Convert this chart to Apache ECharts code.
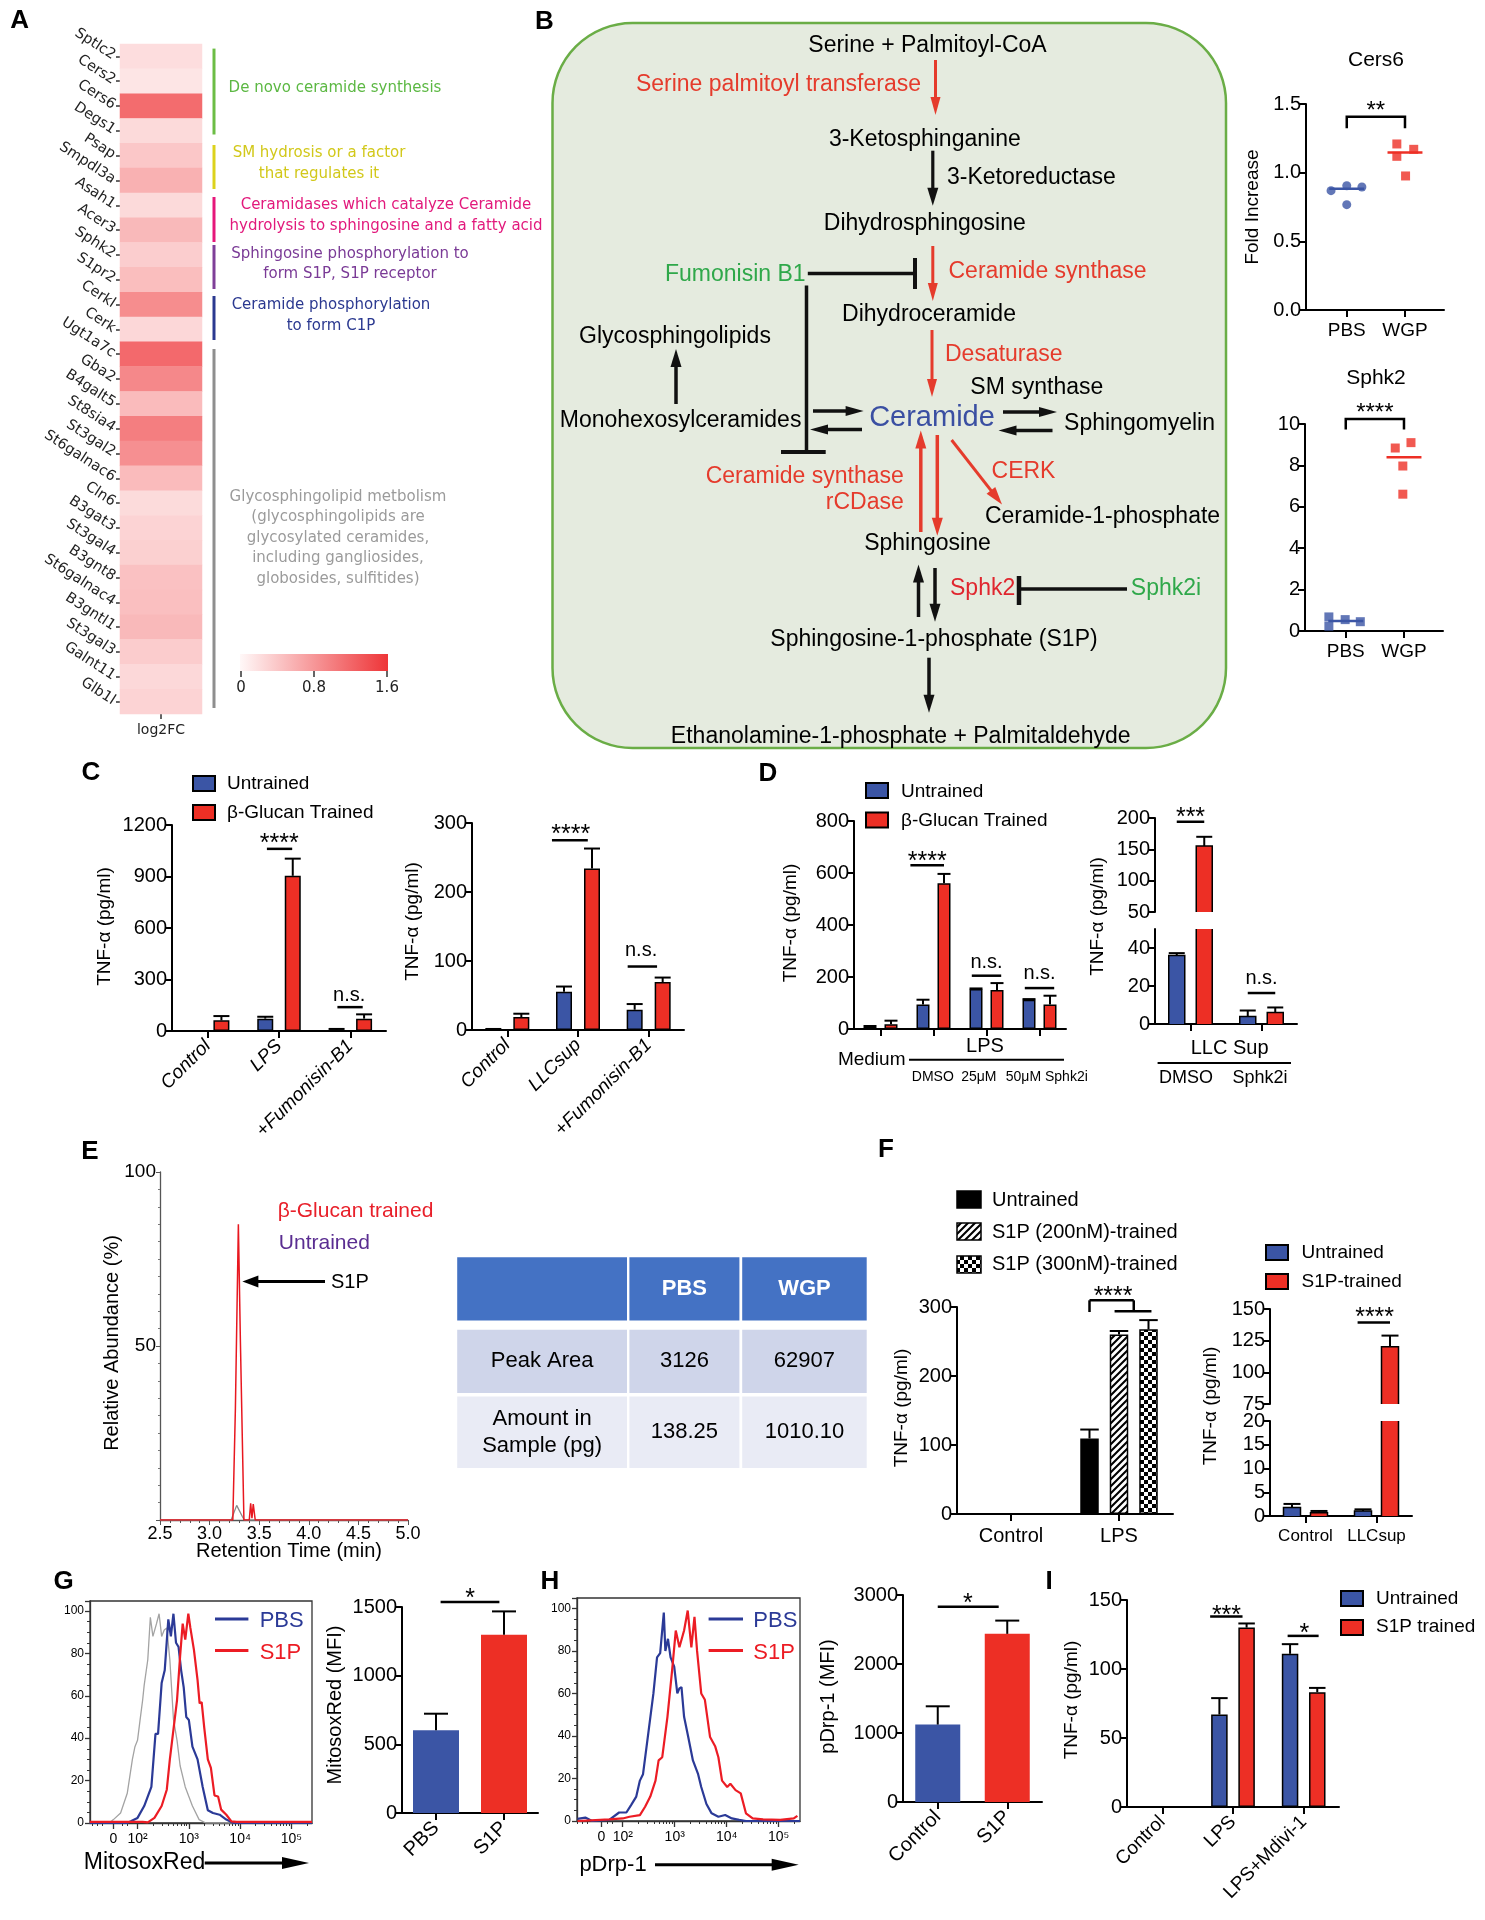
<!DOCTYPE html>
<html><head><meta charset="utf-8">
<script src="https://cdn.jsdelivr.net/npm/echarts@6/dist/echarts.min.js"></script>
<style>html,body{margin:0;padding:0;background:#fff}#c{width:1485px;height:1920px}</style>
</head><body><div id="c"></div>
<script>
const SANS = "'Liberation Sans', Arial, Helvetica, sans-serif";
const VERD = "'DejaVu Sans', Verdana, sans-serif";
const BLUE = '#3b55a5', RED = '#ed2f25';
const HBLUE = '#2b3a97', HRED = '#ec1c24', HGRAY = '#a3a3a3';
const PRED = '#e53b2c', PGREEN = '#2fa84a';

// ================= DATA =================
// A: heatmap
const genes = ['Sptlc2','Cers2','Cers6','Degs1','Psap','Smpdl3a','Asah1','Acer3','Sphk2','S1pr2','Cerkl','Cerk','Ugt1a7c','Gba2','B4galt5','St8sia4','St3gal2','St6galnac6','Cln6','B3gat3','St3gal4','B3gnt8','St6galnac4','B3gntl1','St3gal3','Galnt11','Glb1l'];
const log2FC = [0.22,0.16,1.15,0.25,0.40,0.58,0.25,0.52,0.35,0.48,0.88,0.27,1.17,0.92,0.50,1.00,0.86,0.50,0.24,0.30,0.33,0.45,0.47,0.52,0.36,0.26,0.30];
const colorTicks = [0, 0.8, 1.6];
// B: scatter
const scatterCats = ['PBS','WGP'];
const cers6PBS = [0.869, 0.905, 0.896, 0.767];
const cers6PBSJit = [-0.27, 0, 0.26, 0];
const cers6WGP = [1.209, 1.170, 1.119, 0.976];
const cers6WGPJit = [-0.14, 0.15, -0.14, 0.01];
const cers6Mean = [0.883, 1.146];
const cers6Bracket = [1.408, 1.323, 1.49];
const sphk2PBS = [0.68, 0.23, 0.55, 0.45];
const sphk2PBSJit = [-0.29, -0.29, -0.01, 0.25];
const sphk2WGP = [8.84, 9.10, 7.97, 6.61];
const sphk2WGPJit = [-0.15, 0.12, -0.02, -0.02];
const sphk2Mean = [0.48, 8.39];
const sphk2Bracket = [10.24, 9.74, 10.8];
// C
const cLeftCats = ['Control','LPS','+Fumonisin-B1'];
const cLeftUntrained = [0, 72, 8];
const cLeftUntrainedErr = [0, 83, 12];
const cLeftTrained = [62, 904, 72];
const cLeftTrainedErr = [87, 1004, 97];
const cLeftSig = [
  {segs:[[1,0.06,1061,1,0.98,1061]], text:'****', tc:1, ti:0.51, ty:1123},
  {segs:[[2,0.03,139,2,0.95,139]], text:'n.s.', tc:2, ti:0.46, ty:207}
];
const cRightCats = ['Control','LLCsup','+Fumonisin-B1'];
const cRightUntrained = [1, 55.5, 29.4];
const cRightUntrainedErr = [1.5, 63, 37.6];
const cRightTrained = [18.8, 234, 69.5];
const cRightTrainedErr = [23.6, 263, 76];
const cRightSig = [
  {segs:[[1,-0.43,275,1,0.85,275]], text:'****', tc:1, ti:0.24, ty:292},
  {segs:[[2,-0.25,92,2,0.8,92]], text:'n.s.', tc:2, ti:0.23, ty:115}
];
// D
const dLeftCats = ['Medium','DMSO','25μM','50μM Sphk2i'];
const dLeftUntrained = [7.7, 94.7, 153.6, 112.6];
const dLeftUntrainedErr = [11.5, 112.6, 156, 115];
const dLeftTrained = [18, 560.6, 150, 94.7];
const dLeftTrainedErr = [32, 596.5, 176.6, 128];
const dLeftSig = [
  {segs:[[1,-0.6,630,1,1,630]], text:'****', tc:1, ti:0.2, ty:666},
  {segs:[[2,-0.2,205,2,1.2,205]], text:'n.s.', tc:2, ti:0.5, ty:257},
  {segs:[[3,-0.2,157.4,3,1.2,157.4]], text:'n.s.', tc:3, ti:0.5, ty:212.5}
];
const dRightCats = ['DMSO','Sphk2i'];
const dRightUntrained = [36.1, 3.9];
const dRightUntrainedErr = [37.3, 7.1];
const dRightTrained = [155.3, 6];
const dRightTrainedErr = [170, 8.7];
const dRightSigUpper = [{segs:[[0,0,194,0,1,194]], text:'***', tc:0, ti:0.5, ty:210}];
const dRightSigLower = [{segs:[[1,0,16.3,1,1,16.3]], text:'n.s.', tc:1, ti:0.5, ty:23.7}];
// E
const eRed = [[2.5,0],[3.234,0],[3.26,32],[3.29,85],[3.31,52],[3.346,0],[3.40,0],[3.414,4.8],[3.427,0.5],[3.44,4.6],[3.46,0],[5.0,0]];
const eGray = [[2.5,0],[3.217,0],[3.273,4.2],[3.33,1],[3.35,0],[5.0,0]];
const tableHeader = ['', 'PBS', 'WGP'];
const tableRows = [['Peak Area','3126','62907'], ['Amount in\nSample (pg)','138.25','1010.10']];
// F
const fLeftCats = ['Control','LPS'];
const fLeftUntrained = [0.5, 109.4];
const fLeftUntrainedErr = [0.5, 122.4];
const fLeftS1P200 = [0.5, 260.3];
const fLeftS1P200Err = [0.5, 265.2];
const fLeftS1P300 = [0.5, 267.6];
const fLeftS1P300Err = [0.5, 281];
const fLeftSig = [{segs:[[1,0,292.7,1,0,309.7],[1,0,309.7,1,1.5,309.7],[1,1.5,309.7,1,1.5,294],[1,0.85,294,1,2.1,294]], text:'****', tc:1, ti:0.8, ty:323}];
const fRightCats = ['Control','LLCsup'];
const fRightUntrained = [1.77, 1.06];
const fRightUntrainedErr = [2.54, 1.4];
const fRightTrained = [0.7, 120.2];
const fRightTrainedErr = [1.06, 129];
const fRightSig = [{segs:[[1,-0.2,139.4,1,1,139.4]], text:'****', tc:1, ti:0.43, ty:147.4}];
// G
const histTickText = ['0','10²','10³','10⁴','10⁵'];
const gGray = [[1.07,0],[1.45,0],[1.53,1.6],[1.67,4.7],[1.8,14],[1.9,30],[1.95,36],[2.0,39],[2.05,48.6],[2.1,58],[2.13,65],[2.2,77],[2.25,97],[2.3,88],[2.37,94],[2.42,98.7],[2.47,88],[2.52,91],[2.57,92],[2.63,77],[2.7,49],[2.77,39],[2.83,27],[2.93,17],[3.07,8],[3.2,1.6],[3.33,0],[5.4,0]];
const gBlue = [[1.07,0],[1.8,0],[1.87,0.8],[2.0,2.4],[2.13,8],[2.27,17],[2.35,42],[2.4,42],[2.47,66],[2.53,72],[2.6,96],[2.65,88],[2.7,98.7],[2.75,85],[2.8,83],[2.85,72],[2.9,64],[2.95,50],[3.0,48.6],[3.07,36],[3.17,30],[3.27,17],[3.37,6],[3.47,4.7],[3.6,3.9],[3.73,1.6],[3.87,0],[5.4,0]];
const gRed = [[1.07,0.5],[2.1,0.5],[2.2,0.3],[2.33,2.4],[2.47,8],[2.57,15.7],[2.63,30],[2.7,44],[2.77,58],[2.83,78.7],[2.88,94],[2.93,86.5],[2.99,98.7],[3.03,92],[3.1,81.5],[3.17,67.4],[3.21,56.4],[3.25,57],[3.3,45],[3.37,30],[3.43,26],[3.5,13],[3.57,12.5],[3.63,6.3],[3.73,3.9],[3.83,0.8],[3.93,0.5],[5.4,0.5]];
const gCats = ['PBS','S1P'];
const gMFI = [602, 1298];
const gMFIErr = [723, 1468];
const gSig = [{segs:[[0,0.1,1536,1,-0.1,1536]], text:'*', tc:0, ti:0.74, ty:1600}];
// H
const hBlue = [[1.13,1],[1.28,1.6],[1.41,0],[1.74,0.5],[1.93,4],[2.07,4],[2.16,7.5],[2.26,11.5],[2.33,19],[2.39,22],[2.49,41],[2.59,60],[2.66,77],[2.72,79],[2.79,98],[2.82,80],[2.87,85.7],[2.92,77],[2.99,72.6],[3.05,60],[3.09,62.4],[3.13,63],[3.18,49],[3.26,39.5],[3.35,28.5],[3.45,22],[3.51,16],[3.61,8],[3.71,3.6],[3.84,2],[3.97,2.8],[4.1,1.2],[4.24,0.5],[4.37,0],[5.41,0]];
const hRed = [[1.13,0],[1.74,0.8],[2.0,1.2],[2.13,2],[2.33,2.8],[2.43,6.7],[2.53,11.5],[2.63,19],[2.69,28.5],[2.76,30],[2.86,49],[2.95,71],[3.02,89.6],[3.09,81.7],[3.18,89.6],[3.25,99],[3.32,81.7],[3.38,96],[3.43,80],[3.51,60],[3.58,57],[3.68,39.5],[3.78,35],[3.84,30],[3.91,19],[4.01,16],[4.07,17.5],[4.17,14.5],[4.27,13],[4.37,3.6],[4.5,1.2],[4.7,0.8],[5.03,0.5],[5.29,1.2],[5.36,2.4]];
const hCats = ['Control','S1P'];
const hMFI = [1122, 2437];
const hMFIErr = [1387, 2629];
const hSig = [{segs:[[0,0,2831,1,-0.19,2831]], text:'*', tc:0, ti:0.67, ty:2952}];
// I
const iCats = ['Control','LPS','LPS+Mdivi-1'];
const iUntrained = [0, 67, 111];
const iUntrainedErr = [0, 78.9, 118];
const iTrained = [0, 130, 83.2];
const iTrainedErr = [0, 133, 86.3];
const iSig = [
  {segs:[[1,-0.34,138,1,0.85,138]], text:'***', tc:1, ti:0.26, ty:142.8},
  {segs:[[2,-0.09,124,2,1.05,124]], text:'*', tc:2, ti:0.53, ty:129.5}
];

// ================= BUILD =================
const G = [];
const option = {animation:false, backgroundColor:'#ffffff', textStyle:{fontFamily:SANS},
  grid:[], xAxis:[], yAxis:[], series:[], visualMap:[], graphic:{elements:G}};
function addGrid(g){ option.grid.push(Object.assign({containLabel:false}, g)); return option.grid.length-1; }
function addX(a){ option.xAxis.push(a); return option.xAxis.length-1; }
function addY(a){ option.yAxis.push(a); return option.yAxis.length-1; }
const plain = v => String(Math.round(v*1000)/1000);

function T(text, x, y, o){ o = o || {};
  G.push({type:'text', x:x, y:y, rotation:o.rot||0, z:50, silent:true,
    style:{text:text, fill:o.c||'#000', font:(o.it?'italic ':'')+(o.b?'bold ':'')+(o.s||20)+'px '+(o.f||SANS),
      textAlign:o.a||'center', textVerticalAlign:o.v||'middle', align:o.a||'center', verticalAlign:o.v||'middle', lineHeight:o.lh}}); }
function YT(text, x, y, s){ T(text, x, y, {rot:Math.PI/2, s:s||19}); }
function L(x1,y1,x2,y2,c,w){ G.push({type:'line', z:45, silent:true, shape:{x1:x1,y1:y1,x2:x2,y2:y2}, style:{stroke:c||'#000', lineWidth:w||2}}); }
function R(x,y,w,h,fill,o){ o = o || {};
  G.push({type:'rect', z:o.z||10, silent:true, shape:{x:x,y:y,width:w,height:h,r:o.r||0}, style:{fill:fill, stroke:o.stroke||null, lineWidth:o.lw||0}}); }
function ARW(x1,y1,x2,y2,c,w,hl,hw){
  const a = Math.atan2(y2-y1,x2-x1), ca = Math.cos(a), sa = Math.sin(a);
  const bx = x2-hl*ca, by = y2-hl*sa;
  G.push({type:'line', z:40, silent:true, shape:{x1:x1,y1:y1,x2:bx+ca,y2:by+sa}, style:{stroke:c, lineWidth:w}});
  G.push({type:'polygon', z:40, silent:true, shape:{points:[[x2,y2],[bx-sa*hw/2, by+ca*hw/2],[bx+sa*hw/2, by-ca*hw/2]]}, style:{fill:c}});
}
function legendBox(x,y,fill){ R(x,y,22,15,fill,{stroke:'#000', lw:2, z:30}); }

// patterns
function makeHatch(){ const c = document.createElement('canvas'); c.width = 7; c.height = 7;
  const x = c.getContext('2d'); x.fillStyle = '#fff'; x.fillRect(0,0,7,7);
  x.strokeStyle = '#000'; x.lineWidth = 2.1; x.beginPath();
  [-7,0,7].forEach(k => { x.moveTo(k-1, 8); x.lineTo(k+8, -1); }); x.stroke(); return c; }
function makeCheck(){ const c = document.createElement('canvas'); c.width = 8; c.height = 8;
  const x = c.getContext('2d'); x.fillStyle = '#fff'; x.fillRect(0,0,8,8);
  x.fillStyle = '#000'; x.fillRect(0,0,4,4); x.fillRect(4,4,4,4); return c; }
const HATCH = {image:makeHatch(), repeat:'repeat'};
const CHECK = {image:makeCheck(), repeat:'repeat'};

function addSig(list, xi, yi, off){
  option.series.push({type:'custom', xAxisIndex:xi, yAxisIndex:yi, z:6, silent:true,
    data: list.map(s => [s.tc, s.ty]),
    renderItem:(params, api) => {
      const s = list[params.dataIndex], ch = [];
      s.segs.forEach(g => {
        const a = api.coord([g[0], g[2]]), b = api.coord([g[3], g[5]]);
        ch.push({type:'line', shape:{x1:a[0]+off(g[1]), y1:a[1], x2:b[0]+off(g[4]), y2:b[1]}, style:{stroke:'#000', lineWidth:2.5}});
      });
      const star = s.text.indexOf('*') >= 0;
      const t = api.coord([s.tc, s.ty]), fs = s.size || (star ? 25 : 20);
      const dy = star ? fs*0.25 : 0;
      ch.push({type:'text', x:t[0]+off(s.ti), y:t[1]+dy, style:{text:s.text, fill:'#000', font:fs+'px '+SANS,
        textAlign:'center', textVerticalAlign:'middle', align:'center', verticalAlign:'middle'}});
      return {type:'group', children:ch};
    }});
}

function barPanel(p){
  const gi = addGrid({left:p.left, top:p.top, width:p.width, height:p.height});
  const xl = p.xLabel || {};
  const xi = addX({type:'category', gridIndex:gi, data:p.cats, show:p.showX !== false,
    axisLine:{show:true, onZero:false, lineStyle:{color:'#000', width:2}},
    axisTick:{show:true, alignWithLabel:true, length:7, lineStyle:{color:'#000', width:2}},
    axisLabel:{show:xl.show !== false, interval:0, rotate:xl.rotate||0, fontStyle:xl.italic?'italic':'normal',
      fontSize:xl.size||19, fontFamily:SANS, color:'#000', margin:xl.margin||10},
    splitLine:{show:false}});
  const yi = addY({type:'value', gridIndex:gi, min:p.min, max:p.max, interval:p.interval,
    splitLine:{show:false},
    axisLine:{show:true, lineStyle:{color:'#000', width:2}},
    axisTick:{show:true, length:7, lineStyle:{color:'#000', width:2}},
    axisLabel:{formatter:plain, fontSize:p.ySize||20, fontFamily:SANS, color:'#000', margin:5, showMaxLabel:p.showMaxLabel !== false}});
  const n = p.ser.length, gap = p.gap || 0;
  const off = i => -(n*p.bw + (n-1)*gap)/2 + p.bw/2 + i*(p.bw+gap);
  p.ser.forEach((s,i) => {
    option.series.push({type:'bar', xAxisIndex:xi, yAxisIndex:yi, barWidth:p.bw, barGap:(gap/p.bw*100)+'%', clip:true, silent:true, z:2,
      data: s.vals.map((v,k) => ({value:v, itemStyle:{color: s.colors ? s.colors[k] : s.color}})),
      itemStyle:{borderColor:'#000', borderWidth: p.outline ? 0 : (p.border||0)}});
    const ox = off(i), ch = (p.cap || p.bw)/2;
    if (p.outline) {
      option.series.push({type:'custom', xAxisIndex:xi, yAxisIndex:yi, z:4, silent:true,
        data: s.vals.map((v,k) => [k, v]).filter(d => d[1] > p.min),
        renderItem:(params, api) => {
          const k = api.value(0), v = api.value(1);
          const a = api.coord([k, Math.max(p.min, 0)]), b = api.coord([k, Math.min(v, p.max)]);
          const x0 = a[0] + ox - p.bw/2, x1 = a[0] + ox + p.bw/2;
          const st = {stroke:'#000', lineWidth:p.border, fill:null};
          if (v <= p.max) return {type:'polyline', shape:{points:[[x0,a[1]],[x0,b[1]],[x1,b[1]],[x1,a[1]]]}, style:st};
          return {type:'group', children:[
            {type:'line', shape:{x1:x0, y1:a[1], x2:x0, y2:b[1]}, style:st},
            {type:'line', shape:{x1:x1, y1:a[1], x2:x1, y2:b[1]}, style:st}]};
        }});
    }
    option.series.push({type:'custom', xAxisIndex:xi, yAxisIndex:yi, z:5, silent:true,
      data: s.vals.map((v,k) => [k, v, s.errs[k]]).filter(d => d[2] > d[1] && d[1] >= p.min && d[2] <= p.max),
      renderItem:(params, api) => {
        const a = api.coord([api.value(0), api.value(1)]), b = api.coord([api.value(0), api.value(2)]);
        const x = a[0] + ox;
        return {type:'group', children:[
          {type:'line', shape:{x1:x, y1:a[1], x2:x, y2:b[1]}, style:{stroke:'#000', lineWidth:2}},
          {type:'line', shape:{x1:x-ch, y1:b[1], x2:x+ch, y2:b[1]}, style:{stroke:'#000', lineWidth:2}}]};
      }});
  });
  if (p.sig) addSig(p.sig, xi, yi, off);
}

function scatterPanel(p){
  const gi = addGrid({left:p.left, top:p.top, width:p.width, height:p.height});
  const xi = addX({type:'value', gridIndex:gi, min:0.3, max:2.67, splitLine:{show:false},
    axisLine:{show:true, onZero:false, lineStyle:{color:'#000', width:2}},
    axisTick:{show:true, customValues:[1,2], length:7, lineStyle:{color:'#000', width:2}},
    axisLabel:{customValues:[1,2], formatter:v => scatterCats[Math.round(v)-1], fontSize:19, color:'#000', fontFamily:SANS, margin:11}});
  const yi = addY({type:'value', gridIndex:gi, min:p.min, max:p.max, interval:p.interval, splitLine:{show:false},
    axisLine:{show:true, onZero:false, lineStyle:{color:'#000', width:2}},
    axisTick:{show:true, length:7, lineStyle:{color:'#000', width:2}},
    axisLabel:{formatter:p.fmt, fontSize:20, color:'#000', fontFamily:SANS, margin:5}});
  option.series.push({type:'scatter', xAxisIndex:xi, yAxisIndex:yi, symbol:p.sym[0], symbolSize:9, itemStyle:{color:BLUE}, silent:true, z:4,
    data:p.pbs.map((v,i) => [1+p.pbsJ[i], v])});
  option.series.push({type:'scatter', xAxisIndex:xi, yAxisIndex:yi, symbol:p.sym[1], symbolSize:9, itemStyle:{color:RED}, silent:true, z:4,
    data:p.wgp.map((v,i) => [2+p.wgpJ[i], v])});
  option.series.push({type:'custom', xAxisIndex:xi, yAxisIndex:yi, z:5, silent:true, data:p.mean.map((m,i) => [i+1, m]),
    renderItem:(params, api) => {
      const a = api.coord([api.value(0)-0.3, api.value(1)]), b = api.coord([api.value(0)+0.3, api.value(1)]);
      return {type:'line', shape:{x1:a[0], y1:a[1], x2:b[0], y2:b[1]}, style:{stroke:[BLUE,RED][params.dataIndex], lineWidth:2.5}};
    }});
  option.series.push({type:'custom', xAxisIndex:xi, yAxisIndex:yi, z:5, silent:true, data:[[1.5, p.br[0]]],
    renderItem:(params, api) => {
      const l1 = api.coord([1, p.br[1]]), t1 = api.coord([1, p.br[0]]), t2 = api.coord([2, p.br[0]]), l2 = api.coord([2, p.br[1]]), st = api.coord([1.5, p.br[2]]);
      return {type:'group', children:[
        {type:'polyline', shape:{points:[l1,t1,t2,l2]}, style:{stroke:'#000', lineWidth:2.5, fill:null}},
        {type:'text', x:st[0], y:st[1]+6, style:{text:p.star, fill:'#000', font:'24px '+SANS, textAlign:'center', textVerticalAlign:'middle', align:'center', verticalAlign:'middle'}}]};
    }});
}

function histPanel(p){
  const gi = addGrid({left:p.left, top:p.top, width:p.width, height:p.height, show:true, borderColor:'#333', borderWidth:1.3, backgroundColor:'transparent'});
  const lab = p.labVals;
  const xi = addX({type:'value', gridIndex:gi, position:'bottom', min:p.xmin, max:p.xmax, splitLine:{show:false},
    axisLine:{show:true, onZero:false, lineStyle:{color:'#333', width:1.3}},
    axisTick:{show:true, customValues:lab, length:6, lineStyle:{color:'#333', width:1.3}},
    axisLabel:{customValues:lab, formatter:v => { let k = 0; lab.forEach((l,j) => { if (Math.abs(l-v) < Math.abs(lab[k]-v)) k = j; }); return histTickText[k]; },
      fontSize:14, color:'#000', margin:9, fontFamily:SANS}});
  const minor = [];
  [2,3,4,5].forEach(d => { for (let k = 2; k <= 9; k++){ const v = d + Math.log10(k); if (v < p.xmax) minor.push(v); } });
  [0.12,0.22,0.32,0.7,0.8].forEach(f => minor.push(1 + f));
  addX({type:'value', gridIndex:gi, position:'bottom', min:p.xmin, max:p.xmax, splitLine:{show:false},
    axisLine:{show:false}, axisLabel:{show:false},
    axisTick:{show:true, customValues:minor, length:3, lineStyle:{color:'#333', width:1}}});
  const yi = addY({type:'value', gridIndex:gi, min:0, max:p.ymax, interval:20, splitLine:{show:false},
    axisLine:{show:true, onZero:false, lineStyle:{color:'#333', width:1.3}},
    axisTick:{show:true, length:5, lineStyle:{color:'#333', width:1.3}},
    minorTick:{show:true, splitNumber:4, length:3, lineStyle:{color:'#333', width:1}},
    axisLabel:{fontSize:12, color:'#000', margin:6, showMaxLabel:false, fontFamily:SANS}});
  p.lines.forEach(l => option.series.push({type:'line', xAxisIndex:xi, yAxisIndex:yi, data:l.data, symbol:'none', silent:true, z:l.z||3,
    lineStyle:{color:l.color, width:l.w}}));
}

// ---------- Panel A ----------
(function(){
  const gi = addGrid({left:120, top:44, width:82, height:670});
  const xi = addX({type:'category', gridIndex:gi, data:['log2FC'], axisLine:{show:false},
    axisTick:{show:true, alignWithLabel:true, length:5, lineStyle:{color:'#333', width:1.5}},
    axisLabel:{fontFamily:VERD, fontSize:14, color:'#222', margin:9}});
  const yi = addY({type:'category', gridIndex:gi, data:genes, inverse:true, axisLine:{show:false},
    axisTick:{show:true, alignWithLabel:true, length:4, lineStyle:{color:'#333', width:1.5}},
    axisLabel:{fontFamily:VERD, fontSize:14.5, color:'#222', rotate:-33, margin:6, interval:0}});
  option.series.push({type:'heatmap', xAxisIndex:xi, yAxisIndex:yi, silent:true, itemStyle:{borderWidth:0},
    data:genes.map((g,i) => [0, i, log2FC[i]])});
  option.visualMap.push({type:'continuous', show:false, min:0, max:1.6, dimension:2, seriesIndex:option.series.length-1,
    inRange:{color:['#fff8f8','#ee3538']}});
  // colour bar
  R(240, 654, 148, 17, {type:'linear', x:0, y:0, x2:1, y2:0, colorStops:[{offset:0, color:'#fff8f8'},{offset:1, color:'#ee3538'}]}, {z:5});
  const gc = addGrid({left:241, top:654, width:146, height:17});
  addX({type:'value', gridIndex:gc, min:0, max:1.6, splitLine:{show:false}, axisLine:{show:false},
    axisTick:{show:true, customValues:colorTicks, length:6, lineStyle:{color:'#333', width:1.5}},
    axisLabel:{customValues:colorTicks, formatter:v => (v === 0 ? '0' : v.toFixed(1)), fontFamily:VERD, fontSize:15, color:'#222', margin:10}});
  addY({type:'value', gridIndex:gc, show:false, min:0, max:1});
  // group bars and texts
  L(214, 48.6, 214, 134.5, '#6cbd45', 3);
  L(214, 145, 214, 189, '#dcd21c', 3);
  L(214, 197, 214, 242, '#e6177a', 3);
  L(214, 245, 214, 289, '#7f3f98', 3);
  L(214, 296, 214, 340, '#2b3990', 3);
  L(214, 349, 214, 708, '#8e8e8e', 3);
  T('De novo ceramide synthesis', 228.6, 88, {a:'left', c:'#5cb843', s:15, f:VERD});
  T('SM hydrosis or a factor\nthat regulates it', 319, 163.5, {c:'#d2c81a', s:15, f:VERD, lh:20.3});
  T('Ceramidases which catalyze Ceramide\nhydrolysis to sphingosine and a fatty acid', 386, 216, {c:'#e2197c', s:15, f:VERD, lh:20.8});
  T('Sphingosine phosphorylation to\nform S1P, S1P receptor', 350, 264, {c:'#7a3a96', s:15, f:VERD, lh:20.3});
  T('Ceramide phosphorylation\nto form C1P', 331, 315.5, {c:'#2b3990', s:15, f:VERD, lh:20.3});
  T('Glycosphingolipid metbolism\n(glycosphingolipids are\nglycosylated ceramides,\nincluding gangliosides,\nglobosides, sulfitides)', 338, 538, {c:'#9b9b9b', s:15, f:VERD, lh:20.6});
})();

// ---------- Panel letters ----------
[['A',19.6,21],['B',544.5,21.5],['C',91,773],['D',768,774],['E',90,1152],['F',886,1150],['G',63.6,1582],['H',550,1582],['I',1049,1582]]
  .forEach(d => T(d[0], d[1], d[2], {b:true, s:26}));

// ---------- Panel B diagram ----------
R(552.5, 23, 673.5, 725, '#e5ebdf', {r:80, stroke:'#6aad46', lw:2.5, z:1});
(function(){
  const K = '#111', S = 23;
  T('Serine + Palmitoyl-CoA', 927.5, 45.4, {s:S});
  T('Serine palmitoyl transferase', 921, 85.1, {s:S, c:PRED, a:'right'});
  ARW(935.5, 60, 935.5, 115, PRED, 3, 18, 10);
  T('3-Ketosphinganine', 924.8, 140, {s:S});
  ARW(932.8, 150.7, 932.8, 205.7, K, 3.2, 18, 11);
  T('3-Ketoreductase', 947, 178, {s:S, a:'left'});
  T('Dihydrosphingosine', 924.8, 223.8, {s:S});
  ARW(932.8, 246, 932.8, 301, PRED, 3, 18, 10);
  T('Fumonisin B1', 805.6, 275, {s:S, c:PGREEN, a:'right'});
  L(807.8, 273.6, 915, 273.6, K, 3.5);
  L(915, 258, 915, 289, K, 4);
  T('Ceramide synthase', 948.5, 271.7, {s:S, c:PRED, a:'left'});
  T('Dihydroceramide', 929, 314.7, {s:S});
  L(806.5, 285.5, 806.5, 452, K, 3.5);
  L(781, 452, 825.7, 452, K, 4);
  T('Glycosphingolipids', 675, 337, {s:S});
  ARW(676, 404, 676, 349, K, 3.5, 18, 11);
  T('Desaturase', 945, 355, {s:S, c:PRED, a:'left'});
  ARW(932, 330, 932, 397, PRED, 3, 18, 10);
  T('SM synthase', 1036.8, 387.4, {s:S});
  T('Monohexosylceramides', 680.6, 421, {s:S});
  ARW(813, 411, 863.6, 411, K, 3.5, 18, 10);
  ARW(862, 429.5, 810, 429.5, K, 3.5, 18, 10);
  T('Ceramide', 932, 417.5, {s:29, c:'#3a4fa2'});
  ARW(1003, 412, 1057, 412, K, 3.5, 18, 10);
  ARW(1052.5, 430.5, 998.5, 430.5, K, 3.5, 18, 10);
  T('Sphingomyelin', 1139.5, 423.8, {s:S});
  ARW(920.8, 532, 920.8, 430.5, PRED, 3.5, 18, 11);
  ARW(937.3, 435, 937.3, 535.7, PRED, 3.5, 18, 11);
  ARW(951.6, 440, 1002, 504.6, PRED, 3, 18, 11);
  T('CERK', 1023.5, 472, {s:S, c:PRED});
  T('Ceramide synthase', 903.8, 476.9, {s:S, c:PRED, a:'right'});
  T('rCDase', 903.8, 503, {s:S, c:PRED, a:'right'});
  T('Ceramide-1-phosphate', 1102.5, 516.6, {s:S});
  T('Sphingosine', 927.5, 543.8, {s:S});
  ARW(918.5, 617, 918.5, 564.4, K, 3.5, 18, 11);
  ARW(935, 568, 935, 621.8, K, 3.5, 18, 11);
  T('Sphk2', 950, 589, {s:S, c:'#e0262e', a:'left'});
  L(1019, 576, 1019, 605, K, 4.5);
  L(1019, 589, 1127, 589, K, 3.5);
  T('Sphk2i', 1166, 589, {s:S, c:PGREEN});
  T('Sphingosine-1-phosphate (S1P)', 934, 640, {s:S});
  ARW(929, 657.7, 929, 712.7, K, 3.5, 18, 11);
  T('Ethanolamine-1-phosphate + Palmitaldehyde', 900.7, 736.6, {s:S});
})();

// ---------- Panel B scatter ----------
scatterPanel({left:1306, top:104, width:138, height:206, min:0, max:1.5, interval:0.5, fmt:v => v.toFixed(1),
  pbs:cers6PBS, pbsJ:cers6PBSJit, wgp:cers6WGP, wgpJ:cers6WGPJit, mean:cers6Mean, br:cers6Bracket, star:'**', sym:['circle','rect']});
scatterPanel({left:1305, top:424, width:138, height:207, min:0, max:10, interval:2, fmt:v => String(v),
  pbs:sphk2PBS, pbsJ:sphk2PBSJit, wgp:sphk2WGP, wgpJ:sphk2WGPJit, mean:sphk2Mean, br:sphk2Bracket, star:'****', sym:['rect','rect']});
T('Cers6', 1376, 60, {s:21});
T('Sphk2', 1376, 378, {s:21});
YT('Fold Increase', 1253, 207, 19);

// ---------- Panel C ----------
barPanel({left:172, top:825, width:214, height:206, cats:cLeftCats, min:0, max:1200, interval:300, bw:16, gap:11.5, border:1.5,
  ser:[{vals:cLeftUntrained, errs:cLeftUntrainedErr, color:BLUE},{vals:cLeftTrained, errs:cLeftTrainedErr, color:RED}],
  xLabel:{rotate:45, italic:true, size:19, margin:12}, sig:cLeftSig});
barPanel({left:472, top:823, width:212, height:207, cats:cRightCats, min:0, max:300, interval:100, bw:16, gap:12, border:1.5,
  ser:[{vals:cRightUntrained, errs:cRightUntrainedErr, color:BLUE},{vals:cRightTrained, errs:cRightTrainedErr, color:RED}],
  xLabel:{rotate:45, italic:true, size:19, margin:12}, sig:cRightSig});
legendBox(193, 776, BLUE); T('Untrained', 227, 783.5, {a:'left', s:19});
legendBox(193, 805, RED); T('β-Glucan Trained', 227, 812.5, {a:'left', s:19});
YT('TNF-α (pg/ml)', 104.6, 926.5, 19);
YT('TNF-α (pg/ml)', 412.4, 921.5, 19);

// ---------- Panel D ----------
barPanel({left:854, top:821, width:212, height:208, cats:dLeftCats, min:0, max:800, interval:200, bw:13, gap:8, border:1.5,
  ser:[{vals:dLeftUntrained, errs:dLeftUntrainedErr, color:BLUE},{vals:dLeftTrained, errs:dLeftTrainedErr, color:RED}],
  xLabel:{show:false}, sig:dLeftSig});
barPanel({left:1155, top:818, width:142, height:94, cats:dRightCats, min:50, max:200, interval:50, bw:16, gap:11.5, border:1.5, showX:false, outline:true,
  ser:[{vals:dRightUntrained, errs:dRightUntrainedErr, color:BLUE},{vals:dRightTrained, errs:dRightTrainedErr, color:RED}],
  xLabel:{show:false}, sig:dRightSigUpper});
barPanel({left:1155, top:929, width:142, height:95, cats:dRightCats, min:0, max:50, interval:20, showMaxLabel:false, bw:16, gap:11.5, border:1.5, outline:true,
  ser:[{vals:dRightUntrained, errs:dRightUntrainedErr, color:BLUE},{vals:dRightTrained, errs:dRightTrainedErr, color:RED}],
  xLabel:{show:false}, sig:dRightSigLower});
legendBox(866, 783, BLUE); T('Untrained', 901, 791.6, {a:'left', s:19});
legendBox(866, 812.6, RED); T('β-Glucan Trained', 901, 821, {a:'left', s:19});
YT('TNF-α (pg/ml)', 790.5, 923, 19);
YT('TNF-α (pg/ml)', 1097.4, 916.5, 19);
T('Medium', 871.7, 1060, {s:19});
L(909, 1059.7, 1064, 1059.7, '#000', 2);
T('LPS', 985, 1046, {s:20});
T('DMSO', 932.8, 1077, {s:14});
T('25μM', 978.8, 1077, {s:14});
T('50μM Sphk2i', 1046.8, 1077, {s:14});
T('LLC Sup', 1229.6, 1048, {s:20});
L(1157.6, 1063, 1291, 1063, '#000', 2);
T('DMSO', 1186, 1078, {s:18});
T('Sphk2i', 1260, 1078, {s:18});

// ---------- Panel E ----------
(function(){
  const gi = addGrid({left:160, top:1172, width:248, height:348});
  const xi = addX({type:'value', gridIndex:gi, min:2.5, max:5.0, interval:0.5, splitLine:{show:false},
    axisLine:{show:true, onZero:false, lineStyle:{color:'#555', width:1.3}},
    axisTick:{show:true, length:5, lineStyle:{color:'#555'}},
    minorTick:{show:true, splitNumber:5, length:3, lineStyle:{color:'#555'}},
    axisLabel:{formatter:v => v.toFixed(1), fontSize:18, color:'#000', margin:5, fontFamily:SANS}});
  const yi = addY({type:'value', gridIndex:gi, min:0, max:100, interval:50, splitLine:{show:false},
    axisLine:{show:true, lineStyle:{color:'#555', width:1.3}},
    axisTick:{show:true, length:4, lineStyle:{color:'#555'}},
    minorTick:{show:true, splitNumber:10, length:2, lineStyle:{color:'#777'}},
    axisLabel:{fontSize:19, color:'#000', margin:4, showMinLabel:false, fontFamily:SANS}});
  option.series.push({type:'line', xAxisIndex:xi, yAxisIndex:yi, data:eGray, symbol:'none', silent:true, z:3, lineStyle:{color:'#8a8a8a', width:1.3}});
  option.series.push({type:'line', xAxisIndex:xi, yAxisIndex:yi, data:eRed, symbol:'none', silent:true, z:4, lineStyle:{color:'#e8171f', width:1.5}});
})();
T('β-Glucan trained', 277.7, 1211, {a:'left', c:'#e8202a', s:21});
T('Untrained', 278.8, 1243, {a:'left', c:'#5a2d91', s:21});
ARW(325, 1281.5, 242.4, 1281.5, '#000', 3, 16, 12);
T('S1P', 331, 1282, {a:'left', s:20});
T('Retention Time (min)', 289, 1551, {s:20});
YT('Relative Abundance (%)', 112, 1343, 20);
(function(){
  const cols = [[457.2, 627], [629.4, 739.4], [742.2, 866.7]];
  const rows = [[1257.2, 1320.5, '#4472c4'], [1329.8, 1393, '#cfd5ea'], [1396.4, 1468, '#e9ebf5']];
  rows.forEach((r, ri) => cols.forEach((c, ci) => {
    R(c[0], r[0], c[1]-c[0], r[1]-r[0], r[2], {z:5});
    const txt = ri === 0 ? tableHeader[ci] : tableRows[ri-1][ci];
    if (txt) T(txt, (c[0]+c[1])/2, (r[0]+r[1])/2, ri === 0 ? {s:22, b:true, c:'#fff'} : {s:22, lh:27});
  }));
})();

// ---------- Panel F ----------
barPanel({left:957, top:1307, width:216, height:207, cats:fLeftCats, min:0, max:300, interval:100, bw:18.5, gap:11, border:1.5,
  ser:[{vals:fLeftUntrained, errs:fLeftUntrainedErr, color:'#000'},{vals:fLeftS1P200, errs:fLeftS1P200Err, color:HATCH},{vals:fLeftS1P300, errs:fLeftS1P300Err, color:CHECK}],
  xLabel:{size:20, margin:12}, sig:fLeftSig});
barPanel({left:1270, top:1309, width:142, height:95, cats:fRightCats, min:75, max:150, interval:25, bw:17, gap:10, border:1.5, showX:false, outline:true,
  ser:[{vals:fRightUntrained, errs:fRightUntrainedErr, color:BLUE},{vals:fRightTrained, errs:fRightTrainedErr, color:RED}],
  xLabel:{show:false}, sig:fRightSig});
barPanel({left:1270, top:1421, width:142, height:95, cats:fRightCats, min:0, max:20, interval:5, bw:17, gap:10, border:1.5, outline:true,
  ser:[{vals:fRightUntrained, errs:fRightUntrainedErr, color:BLUE},{vals:fRightTrained, errs:fRightTrainedErr, color:RED}],
  xLabel:{size:17, margin:12}});
R(957, 1191, 24, 17, '#000', {stroke:'#000', lw:1.5, z:30}); T('Untrained', 992, 1200, {a:'left', s:20});
R(957, 1223, 24, 17, HATCH, {stroke:'#000', lw:1.5, z:30}); T('S1P (200nM)-trained', 992, 1232, {a:'left', s:20});
R(957, 1256, 24, 17, CHECK, {stroke:'#000', lw:1.5, z:30}); T('S1P (300nM)-trained', 992, 1264, {a:'left', s:20});
legendBox(1266, 1245, BLUE); T('Untrained', 1301.5, 1253, {a:'left', s:19});
legendBox(1266, 1274, RED); T('S1P-trained', 1301.5, 1282, {a:'left', s:19});
YT('TNF-α (pg/ml)', 902, 1408, 19);
YT('TNF-α (pg/ml)', 1210.8, 1406, 19);

// ---------- Panel G ----------
histPanel({left:90, top:1601, width:222, height:222, xmin:1.074, xmax:5.40, ymax:104.7, labVals:[1.53,2,3,4,5],
  lines:[{data:gGray, color:HGRAY, w:1.3, z:3},{data:gBlue, color:HBLUE, w:2.2, z:4},{data:gRed, color:HRED, w:2.2, z:5}]});
L(215, 1619, 248.4, 1619, HBLUE, 3); T('PBS', 259.7, 1621, {a:'left', s:22, c:HBLUE});
L(215, 1650.6, 248.4, 1650.6, HRED, 3); T('S1P', 259.7, 1652.6, {a:'left', s:22, c:HRED});
T('MitosoxRed', 144.5, 1863, {s:23});
ARW(204.7, 1863, 309, 1863, '#000', 3, 27, 12);
barPanel({left:402, top:1607, width:136, height:206, cats:gCats, min:0, max:1500, interval:500, bw:46, gap:0, border:0, cap:24, ySize:20,
  ser:[{vals:gMFI, errs:gMFIErr, colors:[BLUE, RED]}], xLabel:{rotate:45, size:20, margin:12}, sig:gSig});
YT('MitosoxRed (MFI)', 335.4, 1705, 20);

// ---------- Panel H ----------
histPanel({left:577, top:1598, width:223, height:223, xmin:1.12, xmax:5.41, ymax:104.9, labVals:[1.59,2,3,4,5],
  lines:[{data:hBlue, color:HBLUE, w:2.2, z:4},{data:hRed, color:HRED, w:2.2, z:5}]});
L(708.6, 1619, 743, 1619, HBLUE, 3); T('PBS', 753.3, 1621, {a:'left', s:22, c:HBLUE});
L(708.6, 1650.6, 743, 1650.6, HRED, 3); T('S1P', 753.3, 1652.6, {a:'left', s:22, c:HRED});
T('pDrp-1', 613, 1864.7, {s:22});
ARW(655, 1864.7, 798.7, 1864.7, '#000', 3, 27, 12);
barPanel({left:903, top:1595, width:139, height:207, cats:hCats, min:0, max:3000, interval:1000, bw:45, gap:0, border:0, cap:24, ySize:20,
  ser:[{vals:hMFI, errs:hMFIErr, colors:[BLUE, RED]}], xLabel:{rotate:45, size:20, margin:12}, sig:hSig});
YT('pDrp-1 (MFI)', 828.3, 1696.5, 20);

// ---------- Panel I ----------
barPanel({left:1127, top:1600, width:212, height:207, cats:iCats, min:0, max:150, interval:50, bw:16.5, gap:10.7, border:1.5,
  ser:[{vals:iUntrained, errs:iUntrainedErr, color:BLUE},{vals:iTrained, errs:iTrainedErr, color:RED}],
  xLabel:{rotate:45, size:19, margin:12}, sig:iSig});
legendBox(1341, 1591, BLUE); T('Untrained', 1376, 1599, {a:'left', s:19});
legendBox(1341, 1620, RED); T('S1P trained', 1376, 1627, {a:'left', s:19});
YT('TNF-α (pg/ml)', 1071.5, 1700, 19);

const chart = echarts.init(document.getElementById('c'), null, {renderer:'canvas'});
chart.setOption(option);
</script></body></html>
